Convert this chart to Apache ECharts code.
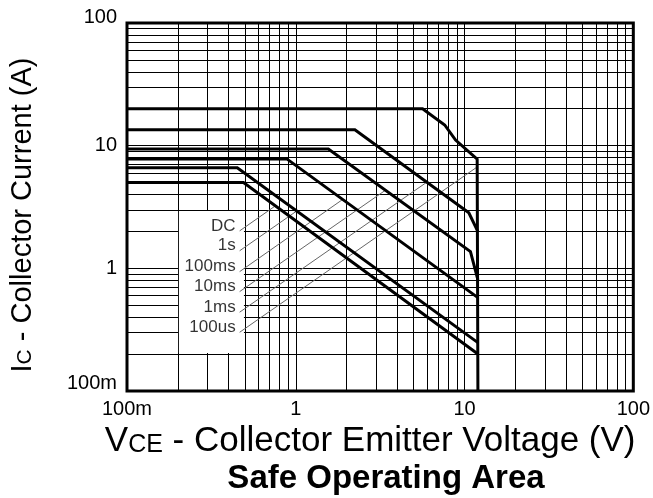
<!DOCTYPE html>
<html>
<head>
<meta charset="utf-8">
<script src="https://cdn.jsdelivr.net/npm/echarts@6/dist/echarts.min.js"></script>
<style>
  html, body { margin: 0; padding: 0; background: #fff; }
  #chart { width: 653px; height: 498px; }
</style>
</head>
<body>
<div id="chart"></div>
<script>
// SOA boundaries, [VCE (V), IC (A)] corner points
const curveNames = ["DC", "1s", "100ms", "10ms", "1ms", "100us"];
const dcCurve = [[0.1, 5], [0.49, 5], [12, 0.2]];
const s1Curve = [[0.1, 6.6], [0.45, 6.6], [12, 0.248]];
const ms100Curve = [[0.1, 7.8], [0.885, 7.8], [12, 0.577]];
const ms10Curve = [[0.1, 9.4], [1.56, 9.4], [10.84, 1.37], [12, 0.805]];
const ms1Curve = [[0.1, 13.5], [2.24, 13.5], [10.6, 2.84], [12, 1.99]];
const us100Curve = [[0.1, 20], [5.64, 20], [7.63, 14.75], [8.85, 11.1], [11.88, 7.75], [12, 7.7], [12, 0.1]];

// leader lines: label anchor -> point on the matching curve
const leaderStart = [[0.465, 2.02], [0.465, 1.39], [0.465, 0.94], [0.465, 0.646], [0.465, 0.439], [0.465, 0.301]];
const leaderEnd = [[0.757, 3.23], [1.008, 2.92], [1.9, 3.65], [3.38, 4.31], [5.98, 5.04], [12, 6.77]];

// both axes run 100m .. 100
const decadeTicks = [0.1, 1, 10, 100];
const decadeLabels = ["100m", "1", "10", "100"];
const minorGrid = [0.2, 0.3, 0.4, 0.5, 0.6, 0.7, 0.8, 0.9,
                   2, 3, 4, 5, 6, 7, 8, 9,
                   20, 30, 40, 50, 60, 70, 80, 90];

const FONT = "'Liberation Sans', Arial, sans-serif";
const curves = [dcCurve, s1Curve, ms100Curve, ms10Curve, ms1Curve, us100Curve];

function decadeLabel(v) {
  const i = Math.round(Math.log10(v)) + 1;
  return decadeLabels[i];
}

// log axes only put split lines on decades; the 2..9 lines go in as markLines
const gridLines = [
  ...minorGrid.map(v => ({ xAxis: v })),
  ...minorGrid.map(v => ({ yAxis: v })),
];

const curveSeries = curves.map((pts, i) => ({
  name: curveNames[i],
  type: "line",
  data: pts,
  symbol: "none",
  silent: true,
  z: 5,
  lineStyle: { color: "#000", width: 3, join: "miter" },
}));

// first curve also carries the minor grid and the white label box
curveSeries[0].markLine = {
  silent: true,
  z: 1,
  symbol: ["none", "none"],
  label: { show: false },
  lineStyle: { color: "#000", width: 1, type: "solid" },
  data: gridLines,
};
curveSeries[0].markArea = {
  silent: true,
  z: 2,
  itemStyle: { color: "#fff" },
  data: [[{ coord: [0.203, 2.94] }, { coord: [0.493, 0.204] }]],
};

const leaderSeries = leaderStart.map((p, i) => ({
  type: "line",
  data: [p, leaderEnd[i]],
  symbol: "none",
  silent: true,
  z: 4,
  lineStyle: { color: "#666", width: 1 },
}));

const labelSeries = {
  type: "scatter",
  data: leaderStart,
  symbolSize: 0,
  silent: true,
  z: 6,
  label: {
    show: true,
    position: "left",
    distance: 4,
    offset: [0, -5],
    formatter: p => curveNames[p.dataIndex],
    fontSize: 17,
    fontFamily: FONT,
    color: "#000",
  },
};

const option = {
  animation: false,
  backgroundColor: "#fff",
  title: {
    text: "Safe Operating Area",
    left: 381,
    top: 457,
    textAlign: "center",
    textStyle: { fontSize: 33, fontWeight: "bold", fontFamily: FONT, color: "#000" },
  },
  grid: {
    left: 127, top: 23, right: 16, bottom: 107,
    show: true, borderColor: "#000", borderWidth: 3, backgroundColor: "#fff",
  },
  xAxis: {
    type: "log",
    logBase: 10,
    min: 0.1,
    max: 100,
    axisLine: { show: false },
    axisTick: { show: false },
    splitLine: { show: true, lineStyle: { color: "#000", width: 1 } },
    axisLabel: {
      margin: 8,
      fontSize: 20,
      fontFamily: FONT,
      color: "#000",
      formatter: decadeLabel,
    },
    name: "{v|V}{s|CE}{v| - Collector Emitter Voltage (V)}",
    nameLocation: "middle",
    nameGap: 26,
    nameTextStyle: {
      padding: [0, 20, 0, 0],
      rich: {
        v: { fontSize: 35, fontFamily: FONT, color: "#000", verticalAlign: "bottom" },
        s: { fontSize: 25, fontFamily: FONT, color: "#000", verticalAlign: "bottom", padding: [0, 0, 1, 0] },
      },
    },
  },
  yAxis: {
    type: "log",
    logBase: 10,
    min: 0.1,
    max: 100,
    axisLine: { show: false },
    axisTick: { show: false },
    splitLine: { show: true, lineStyle: { color: "#000", width: 1 } },
    axisLabel: {
      margin: 10,
      fontSize: 20,
      fontFamily: FONT,
      color: "#000",
      formatter: v => {
        const t = decadeLabel(v);
        if (t === "100") return "{top|" + t + "}";
        if (t === "100m") return "{bot|" + t + "}";
        return t;
      },
      rich: {
        top: { fontSize: 20, fontFamily: FONT, color: "#000", padding: [0, 0, 12, 0] },
        bot: { fontSize: 20, fontFamily: FONT, color: "#000", padding: [0, 0, 16, 0] },
      },
    },
    name: "{v|I}{s|C}{v| - Collector Current (A)}",
    nameLocation: "middle",
    nameGap: 90,
    nameTextStyle: {
      padding: [0, 16, 0, 0],
      rich: {
        v: { fontSize: 29, fontFamily: FONT, color: "#000", verticalAlign: "bottom" },
        s: { fontSize: 21, fontFamily: FONT, color: "#000", verticalAlign: "bottom", padding: [0, 0, 1, 0] },
      },
    },
  },
  series: [...curveSeries, ...leaderSeries, labelSeries],
};

const chart = echarts.init(document.getElementById("chart"));
chart.setOption(option);
window.addEventListener("resize", () => chart.resize());
</script>
</body>
</html>
